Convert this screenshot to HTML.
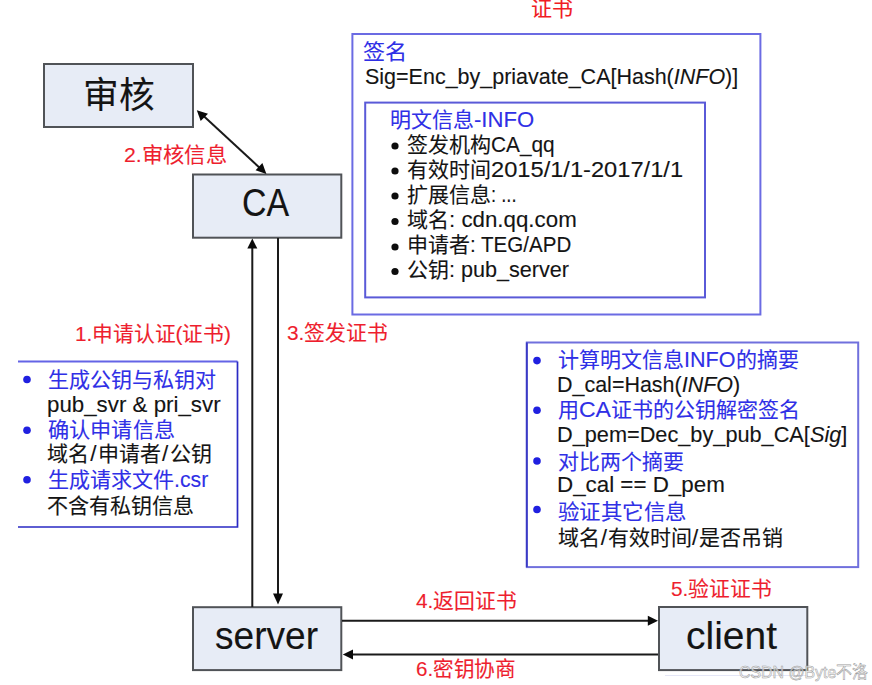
<!DOCTYPE html>
<html lang="zh-CN"><head><meta charset="utf-8">
<style>
html,body{margin:0;padding:0;background:#fff;}
body{width:872px;height:685px;position:relative;overflow:hidden;font-family:"Liberation Sans", sans-serif;}
.t{position:absolute;white-space:nowrap;line-height:1;transform-origin:0 0;-webkit-text-stroke:0.12px currentColor;}
.t i{font-style:italic;}
.L{font-size:22.5px;display:inline-block;white-space:pre;transform-origin:0 50%;}
</style></head><body>
<svg width="872" height="685" viewBox="0 0 872 685" style="position:absolute;left:0;top:0">
<g fill="#e7ecf6" stroke="#505357" stroke-width="2">
<rect x="44" y="64" width="149" height="63"/>
<rect x="193" y="174.5" width="148.3" height="63.2"/>
<rect x="193" y="607.2" width="148.3" height="62.9"/>
<rect x="659" y="607" width="148.3" height="63.1"/>
</g>
<g fill="none" stroke-width="2">
<rect x="352.4" y="34" width="408" height="280.5" stroke="#6b6be3"/>
<rect x="365.2" y="102.6" width="339.8" height="194.8" stroke="#5a5ad8"/>
<path d="M18 361.5 H237.5" stroke="#6464e6"/>
<path d="M237.5 361.5 V527 H18" stroke="#2a2ac4" stroke-width="1.7"/>
<rect x="526.8" y="342.5" width="331.4" height="224.6" stroke="#7070dd"/>
<path d="M526.8 342.5 V567.1" stroke="#3a3ac4" stroke-width="1.8"/>
</g>
<g stroke="#1a1a1a" stroke-width="2" fill="#0a0a0a">
<line x1="202" y1="114.5" x2="261.5" y2="169.5"/>
<path d="M196.8 110.3 L208 113.7 L200.7 120.9 Z" stroke="none"/>
<path d="M266.4 173.9 L262.4 163.1 L255.6 170.2 Z" stroke="none"/>
<line x1="252.3" y1="246" x2="252.3" y2="607"/>
<path d="M252.3 238.5 L247.3 248.6 L257.3 248.6 Z" stroke="none"/>
<line x1="278" y1="238" x2="278" y2="596"/>
<path d="M278 604.4 L273 593.6 L283 593.6 Z" stroke="none"/>
<line x1="342" y1="620.8" x2="650" y2="620.8"/>
<path d="M658 620.8 L647.8 615.8 L647.8 625.8 Z" stroke="none"/>
<line x1="350" y1="654.5" x2="658" y2="654.5"/>
<path d="M342.8 654.5 L353 649.5 L353 659.5 Z" stroke="none"/>
</g>
<g fill="#0d0d0d">
<circle cx="395" cy="146" r="3.6"/><circle cx="395" cy="171" r="3.6"/><circle cx="395" cy="196" r="3.6"/>
<circle cx="395" cy="221.5" r="3.6"/><circle cx="395" cy="247" r="3.6"/><circle cx="395" cy="271.5" r="3.6"/>
</g>
<g fill="#2020e0">
<circle cx="27" cy="379.5" r="3.8"/><circle cx="27" cy="430.2" r="3.8"/><circle cx="27" cy="479.7" r="3.8"/>
<circle cx="537" cy="360.6" r="3.8"/><circle cx="537" cy="410.2" r="3.8"/><circle cx="537" cy="461" r="3.8"/><circle cx="537" cy="509.5" r="3.8"/>
</g>
<line x1="665" y1="675.5" x2="808" y2="675.5" stroke="#e4e6f6" stroke-width="1"/>
</svg>
<div class="t" id="zs" style="left:531.00px;top:-1.60px;font-size:21px;color:#f01c24;transform:scaleX(1.0000);">证书</div>
<div class="t" id="l2" style="left:123.79px;top:143.60px;font-size:21px;color:#ee1e2e;transform:scaleX(1.0140);">2.审核信息</div>
<div class="t" id="l1" style="left:74.50px;top:322.60px;font-size:21px;color:#ee1e2e;transform:scaleX(0.9897);">1.申请认证(证书)</div>
<div class="t" id="l3" style="left:286.60px;top:322.00px;font-size:21px;color:#ee1e2e;transform:scaleX(0.9920);">3.签发证书</div>
<div class="t" id="l4" style="left:416.00px;top:590.00px;font-size:21px;color:#ee1e2e;transform:scaleX(0.9901);">4.返回证书</div>
<div class="t" id="l5" style="left:671.00px;top:578.40px;font-size:21px;color:#ee1e2e;transform:scaleX(0.9901);">5.验证证书</div>
<div class="t" id="l6" style="left:416.01px;top:658.00px;font-size:21px;color:#ee1e2e;transform:scaleX(0.9801);">6.密钥协商</div>
<div class="t" id="bsh" style="left:82.72px;top:78.10px;font-size:36px;color:#141414;transform:scaleX(0.9913);">审核</div>
<div class="t" id="bca" style="left:242.34px;top:184.21px;font-size:38px;color:#141414;transform:scaleX(0.8926);">CA</div>
<div class="t" id="bsv" style="left:214.82px;top:617.21px;font-size:38px;color:#141414;transform:scaleX(0.9754);">server</div>
<div class="t" id="bcl" style="left:686.06px;top:616.50px;font-size:38px;color:#141414;transform:scaleX(1.0253);">client</div>
<div class="t" id="c1" style="left:362.89px;top:41.00px;font-size:21px;color:#2f2fe6;transform:scaleX(1.0526);">签名</div>
<div class="t" id="c2" style="left:365.04px;top:65.50px;font-size:22.5px;color:#141414;transform:scaleX(0.9550);">Sig=Enc_by_priavate_CA[Hash(<i>INFO</i>)]</div>
<div class="t" id="c3" style="left:389.98px;top:108.50px;font-size:21px;color:#2f2fe6;transform:scaleX(1.0000);">明文信息<span class="L" style="transform:scaleX(0.9836);margin-right:-1.00px">-INFO</span></div>
<div class="t" id="c4" style="left:407.00px;top:133.71px;font-size:21px;color:#141414;transform:scaleX(1.0000);">签发机构<span class="L" style="transform:scaleX(0.9259);margin-right:-5.11px">CA_qq</span></div>
<div class="t" id="c5" style="left:407.00px;top:158.81px;font-size:21px;color:#141414;transform:scaleX(1.0000);">有效时间<span class="L" style="transform:scaleX(1.0514);margin-right:9.41px">2015/1/1-2017/1/1</span></div>
<div class="t" id="c6" style="left:407.00px;top:183.90px;font-size:21px;color:#141414;transform:scaleX(1.0000);">扩展信息<span class="L" style="transform:scaleX(0.8189);margin-right:-5.61px">: ...</span></div>
<div class="t" id="c7" style="left:407.00px;top:208.90px;font-size:21px;color:#141414;transform:scaleX(1.0000);">域名<span class="L" style="transform:scaleX(0.9914);margin-right:-1.11px">: cdn.qq.com</span></div>
<div class="t" id="c8" style="left:407.00px;top:233.91px;font-size:21px;color:#141414;transform:scaleX(1.0000);">申请者<span class="L" style="transform:scaleX(0.9135);margin-right:-9.60px">: TEG/APD</span></div>
<div class="t" id="c9" style="left:407.00px;top:258.90px;font-size:21px;color:#141414;transform:scaleX(1.0000);">公钥<span class="L" style="transform:scaleX(0.9600);margin-right:-5.00px">: pub_server</span></div>
<div class="t" id="p1" style="left:48.20px;top:368.60px;font-size:21px;color:#2f2fe6;transform:scaleX(1.0011);">生成公钥与私钥对</div>
<div class="t" id="p2" style="left:47.00px;top:394.30px;font-size:22.5px;color:#141414;transform:scaleX(0.9914);">pub_svr &amp; pri_svr</div>
<div class="t" id="p3" style="left:48.20px;top:419.00px;font-size:21px;color:#2f2fe6;transform:scaleX(1.0069);">确认申请信息</div>
<div class="t" id="p4" style="left:47.00px;top:442.60px;font-size:21px;color:#141414;transform:scaleX(1.0000);">域名<span class="L" style="margin:0 1.25px">/</span>申请者<span class="L" style="margin:0 1.25px">/</span>公钥</div>
<div class="t" id="p5" style="left:48.20px;top:468.91px;font-size:21px;color:#2f2fe6;transform:scaleX(1.0000);">生成请求文件<span class="L" style="transform:scaleX(0.9444);margin-right:-2.00px">.csr</span></div>
<div class="t" id="p6" style="left:47.00px;top:495.00px;font-size:21px;color:#141414;transform:scaleX(1.0000);">不含有私钥信息</div>
<div class="t" id="r1" style="left:558.30px;top:348.50px;font-size:21px;color:#2f2fe6;transform:scaleX(1.0000);">计算明文信息<span class="L" style="transform:scaleX(0.9569);margin-right:-2.32px">INFO</span>的摘要</div>
<div class="t" id="r2" style="left:557.00px;top:373.50px;font-size:22.5px;color:#141414;transform:scaleX(0.9541);">D_cal=Hash(<i>INFO</i>)</div>
<div class="t" id="r3" style="left:558.30px;top:398.50px;font-size:21px;color:#2f2fe6;transform:scaleX(1.0000);">用<span class="L" style="transform:scaleX(1.0228);margin-right:0.71px">CA</span>证书的公钥解密签名</div>
<div class="t" id="r4" style="left:557.00px;top:423.50px;font-size:22.5px;color:#141414;transform:scaleX(0.9651);">D_pem=Dec_by_pub_CA[<i>Sig</i>]</div>
<div class="t" id="r5" style="left:558.30px;top:451.00px;font-size:21px;color:#2f2fe6;transform:scaleX(0.9978);">对比两个摘要</div>
<div class="t" id="r6" style="left:557.00px;top:473.50px;font-size:22.5px;color:#141414;transform:scaleX(0.9937);">D_cal == D_pem</div>
<div class="t" id="r7" style="left:558.30px;top:501.00px;font-size:21px;color:#2f2fe6;transform:scaleX(1.0216);">验证其它信息</div>
<div class="t" id="r8" style="left:558.30px;top:527.00px;font-size:21px;color:#141414;transform:scaleX(1.0000);">域名<span class="L" style="margin:0 0.50px">/</span>有效时间<span class="L" style="margin:0 0.50px">/</span>是否吊销</div>
<div class="t" id="wm" style="left:738.92px;top:664.00px;font-size:17px;color:#a8a8a8;transform:scaleX(0.9337);-webkit-text-stroke:0.55px #9c9c9c;color:rgba(250,250,250,0.7);">CSDN @Byte不洛</div>
</body></html>
